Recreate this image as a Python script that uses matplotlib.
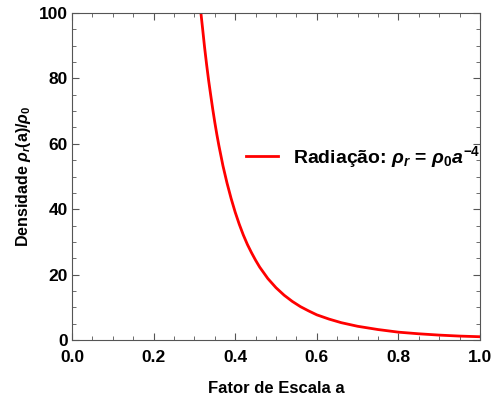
import matplotlib
matplotlib.use("Agg")
import matplotlib.pyplot as plt
from matplotlib.ticker import MultipleLocator, FormatStrFormatter

plt.rcParams["font.family"] = ["Liberation Sans", "DejaVu Sans"]
plt.rcParams["font.weight"] = "bold"
plt.rcParams["mathtext.fontset"] = "custom"
plt.rcParams["mathtext.rm"] = "Liberation Sans:bold"
plt.rcParams["mathtext.it"] = "Liberation Sans:bold:italic"
plt.rcParams["mathtext.bf"] = "Liberation Sans:bold"

# Values in the reference picture.
scale_a = [0.316, 0.32, 0.325, 0.33, 0.335, 0.34, 0.345, 0.35, 0.355, 0.36, 0.37,
           0.38, 0.39, 0.40, 0.41, 0.42, 0.43, 0.44, 0.45, 0.46, 0.48, 0.50, 0.52,
           0.54, 0.56, 0.58, 0.60, 0.63, 0.66, 0.70, 0.75, 0.80, 0.85, 0.90,
           0.95, 1.00]
density = [100.0, 95.4, 89.5, 84.2, 79.3, 74.9, 70.6, 66.6, 62.9, 59.5, 53.3,
           48.0, 43.3, 39.1, 35.4, 32.1, 29.2, 26.7, 24.4, 22.3, 18.8, 16.0, 13.7,
           11.8, 10.2, 8.9, 7.7, 6.4, 5.3, 4.2, 3.2, 2.4, 1.9, 1.5,
           1.2, 1.0]

fig = plt.figure(figsize=(4.91, 3.96), dpi=100)
ax = fig.add_axes([0.1466, 0.1414, 0.831, 0.8256])

ax.plot(scale_a, density, color="#ff0000", lw=2,
        label=r"Radiação: $\rho_r$ = $\rho_0 a^{-4}$")

ax.set_xlim(0, 1)
ax.set_ylim(0, 100)
ax.xaxis.set_major_locator(MultipleLocator(0.2))
ax.xaxis.set_minor_locator(MultipleLocator(0.05))
ax.yaxis.set_major_locator(MultipleLocator(20))
ax.yaxis.set_minor_locator(MultipleLocator(5))
ax.xaxis.set_major_formatter(FormatStrFormatter("%.1f"))
ax.tick_params(which="both", direction="in", top=True, right=True,
               labelsize=12.5, color="#555555")
ax.tick_params(which="major", length=5)
ax.tick_params(which="minor", length=3)
ax.tick_params(axis="x", pad=7)
ax.tick_params(axis="y", pad=3)
for s in ax.spines.values():
    s.set_color("#555555")

ax.set_xlabel("Fator de Escala a", fontsize=12, fontweight="bold", labelpad=12)
ax.set_ylabel(r"Densidade $\rho_r$(a)/$\rho_0$", fontsize=11.5, fontweight="bold",
              labelpad=4)

ax.legend(loc="center right", bbox_to_anchor=(1.03, 0.56), frameon=False,
          fontsize=14, handlelength=1.6, handletextpad=0.8, borderaxespad=0.2)

fig.savefig("out.png", dpi=100)
